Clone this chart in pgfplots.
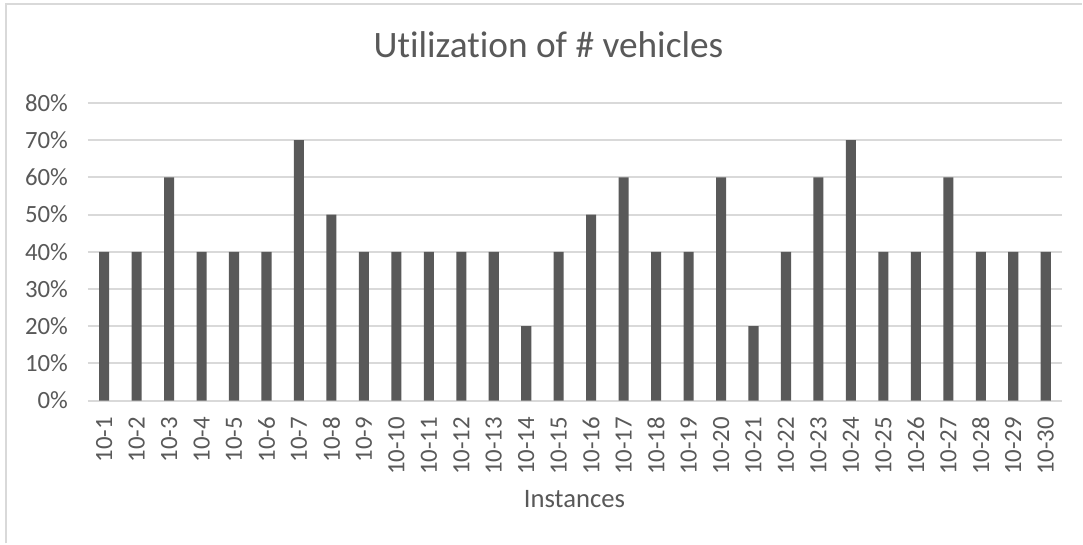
\documentclass[border=0pt]{standalone}
\usepackage{pgfplots}
\pgfplotsset{compat=1.18}
\usepackage{fontspec}
\setmainfont[Ligatures={NoCommon}]{Carlito}
\definecolor{bargray}{HTML}{595959}
\definecolor{txtgray}{HTML}{595959}
\definecolor{gridgray}{HTML}{D9D9D9}
\begin{document}
\begin{tikzpicture}[x=0.375pt,y=0.375pt]
\fill[white] (0,0) rectangle (1083,544);
\draw[gridgray,line width=0.75pt] (6,0) -- (6,540) -- (1083,540);
\begin{axis}[
  at={(33pt,53.625pt)}, anchor=south west,
  scale only axis, width=365.6pt, height=111.75pt,
  xmin=0.5, xmax=30.5, ymin=0, ymax=80,
  axis line style={draw=none},
  axis x line*=bottom,
  ytick={0,10,20,30,40,50,60,70,80},
  yticklabels={0\%,10\%,20\%,30\%,40\%,50\%,60\%,70\%,80\%},
  xtick={1,...,30},
  xticklabels={10-1,10-2,10-3,10-4,10-5,10-6,10-7,10-8,10-9,10-10,10-11,10-12,10-13,10-14,10-15,10-16,10-17,10-18,10-19,10-20,10-21,10-22,10-23,10-24,10-25,10-26,10-27,10-28,10-29,10-30},
  x tick label style={rotate=90, anchor=east, font=\fontsize{9.3}{10}\selectfont, text=txtgray, inner sep=0pt},
  xticklabel shift=6pt,
  y tick label style={font=\fontsize{9.3}{10}\selectfont, text=txtgray},
  yticklabel shift=4pt,
  major tick length=0pt,
  ymajorgrids, grid style={gridgray, line width=0.75pt},
  clip=false,
]
\addplot[ybar, bar width=0.31, fill=bargray, draw=none] coordinates {
(1,40)(2,40)(3,60)(4,40)(5,40)(6,40)(7,70)(8,50)(9,40)(10,40)
(11,40)(12,40)(13,40)(14,20)(15,40)(16,50)(17,60)(18,40)(19,40)(20,60)
(21,20)(22,40)(23,60)(24,70)(25,40)(26,40)(27,60)(28,40)(29,40)(30,40)};
\end{axis}
\node[text=txtgray, font=\fontsize{14}{16}\selectfont] at (549,499) {Utilization of \# vehicles};
\node[text=txtgray, font=\fontsize{10}{12}\selectfont] at (575,44) {Instances};
\end{tikzpicture}
\end{document}
